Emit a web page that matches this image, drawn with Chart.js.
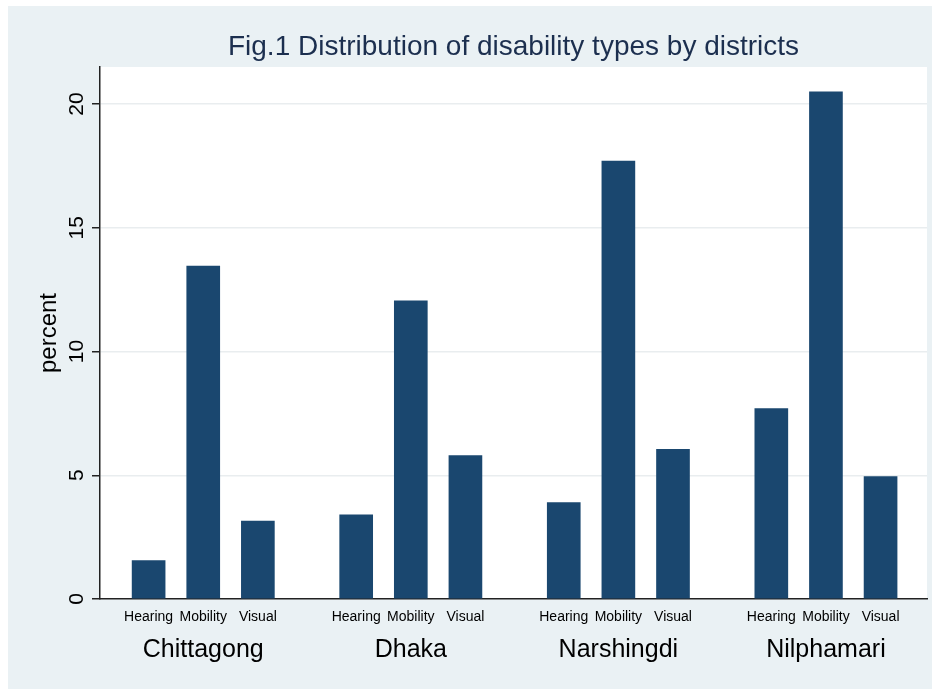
<!DOCTYPE html>
<html>
<head>
<meta charset="utf-8">
<script src="https://cdn.jsdelivr.net/npm/chart.js@4.4.1/dist/chart.umd.min.js"></script>
<style>
  html, body { margin: 0; padding: 0; background: #fff; }
  #wrap { position: absolute; left: 8px; top: 6px; width: 924px; height: 683px; background: #eaf1f4; }
</style>
</head>
<body>
<div id="wrap"><canvas id="chart"></canvas></div>
<script>
// data (percent)
const districts = ["Chittagong", "Dhaka", "Narshingdi", "Nilphamari"];
const types = ["Hearing", "Mobility", "Visual"];
const hearing = [1.55, 3.4, 3.9, 7.7];
const mobility = [13.45, 12.05, 17.7, 20.5];
const visual = [3.15, 5.8, 6.05, 4.95];
const yTicks = [0, 5, 10, 15, 20];

const GROUP_STEP = 3.8; // gap between district groups, in bar slots
const series = [hearing, mobility, visual];
const points = [];
districts.forEach((d, g) => {
  series.forEach((arr, i) => points.push({ x: g * GROUP_STEP + i, y: arr[g] }));
});
const barPos = points.map(p => p.x);
const groupPos = districts.map((d, g) => g * GROUP_STEP + 1);

Chart.defaults.font.family = "'Liberation Sans', Arial, sans-serif";
Chart.defaults.color = "#000";

// white plot region on the grey page
const plotBg = {
  id: "plotBg",
  beforeDraw(chart) {
    const { ctx, chartArea: a } = chart;
    ctx.save();
    ctx.fillStyle = "#fff";
    ctx.fillRect(a.left, a.top, a.right - a.left, a.bottom - a.top);
    ctx.restore();
  },
};

new Chart(document.getElementById("chart"), {
  type: "bar",
  data: {
    datasets: [{
      data: points,
      backgroundColor: "#1a476f",
      barThickness: 33,
    }],
  },
  options: {
    responsive: true,
    maintainAspectRatio: false,
    animation: false,
    layout: { padding: { left: 0, right: 5, top: 0, bottom: 0 } },
    plugins: {
      legend: { display: false },
      tooltip: { enabled: false },
      title: {
        display: true,
        fullSize: false,
        text: "Fig.1 Distribution of disability types by districts",
        color: "#1c2f4f",
        font: { size: 28, weight: "normal" },
        padding: { top: 24, bottom: 3.4 },
      },
    },
    scales: {
      x: {
        type: "linear",
        position: "bottom",
        weight: 0,
        offset: false,
        min: -0.89,
        max: 14.25,
        afterBuildTicks: s => { s.ticks = barPos.map(v => ({ value: v })); },
        afterFit: s => { s.height = 28; },
        grid: { display: false, drawTicks: false, offset: false },
        border: { display: true, color: "#222", width: 1.5 },
        ticks: {
          autoSkip: false,
          maxRotation: 0,
          padding: 10,
          font: { size: 14 },
          callback: (v, i) => types[i % 3],
        },
      },
      x2: {
        type: "linear",
        position: "bottom",
        weight: 1,
        offset: false,
        min: -0.89,
        max: 14.25,
        afterBuildTicks: s => { s.ticks = groupPos.map(v => ({ value: v })); },
        afterFit: s => { s.height = 62; },
        grid: { display: false, drawTicks: false, offset: false },
        border: { display: false },
        ticks: {
          autoSkip: false,
          maxRotation: 0,
          padding: 8,
          font: { size: 25 },
          callback: (v, i) => districts[i],
        },
      },
      y: {
        min: 0,
        max: 21.5,
        afterBuildTicks: s => { s.ticks = yTicks.map(v => ({ value: v })); },
        afterFit: s => { s.width = 92; },
        grid: {
          color: c => (c.tick && c.tick.value === 0 ? "rgba(0,0,0,0)" : "#e9edef"),
          lineWidth: 1.5,
          tickColor: "#222",
          tickLength: 8,
        },
        border: { color: "#222", width: 1.5 },
        ticks: {
          minRotation: 90,
          maxRotation: 90,
          crossAlign: "center",
          padding: 3,
          font: { size: 21 },
        },
        title: {
          display: true,
          text: "percent",
          font: { size: 24 },
          padding: { top: 27, bottom: 0 },
        },
      },
    },
  },
  plugins: [plotBg],
});
</script>
</body>
</html>
